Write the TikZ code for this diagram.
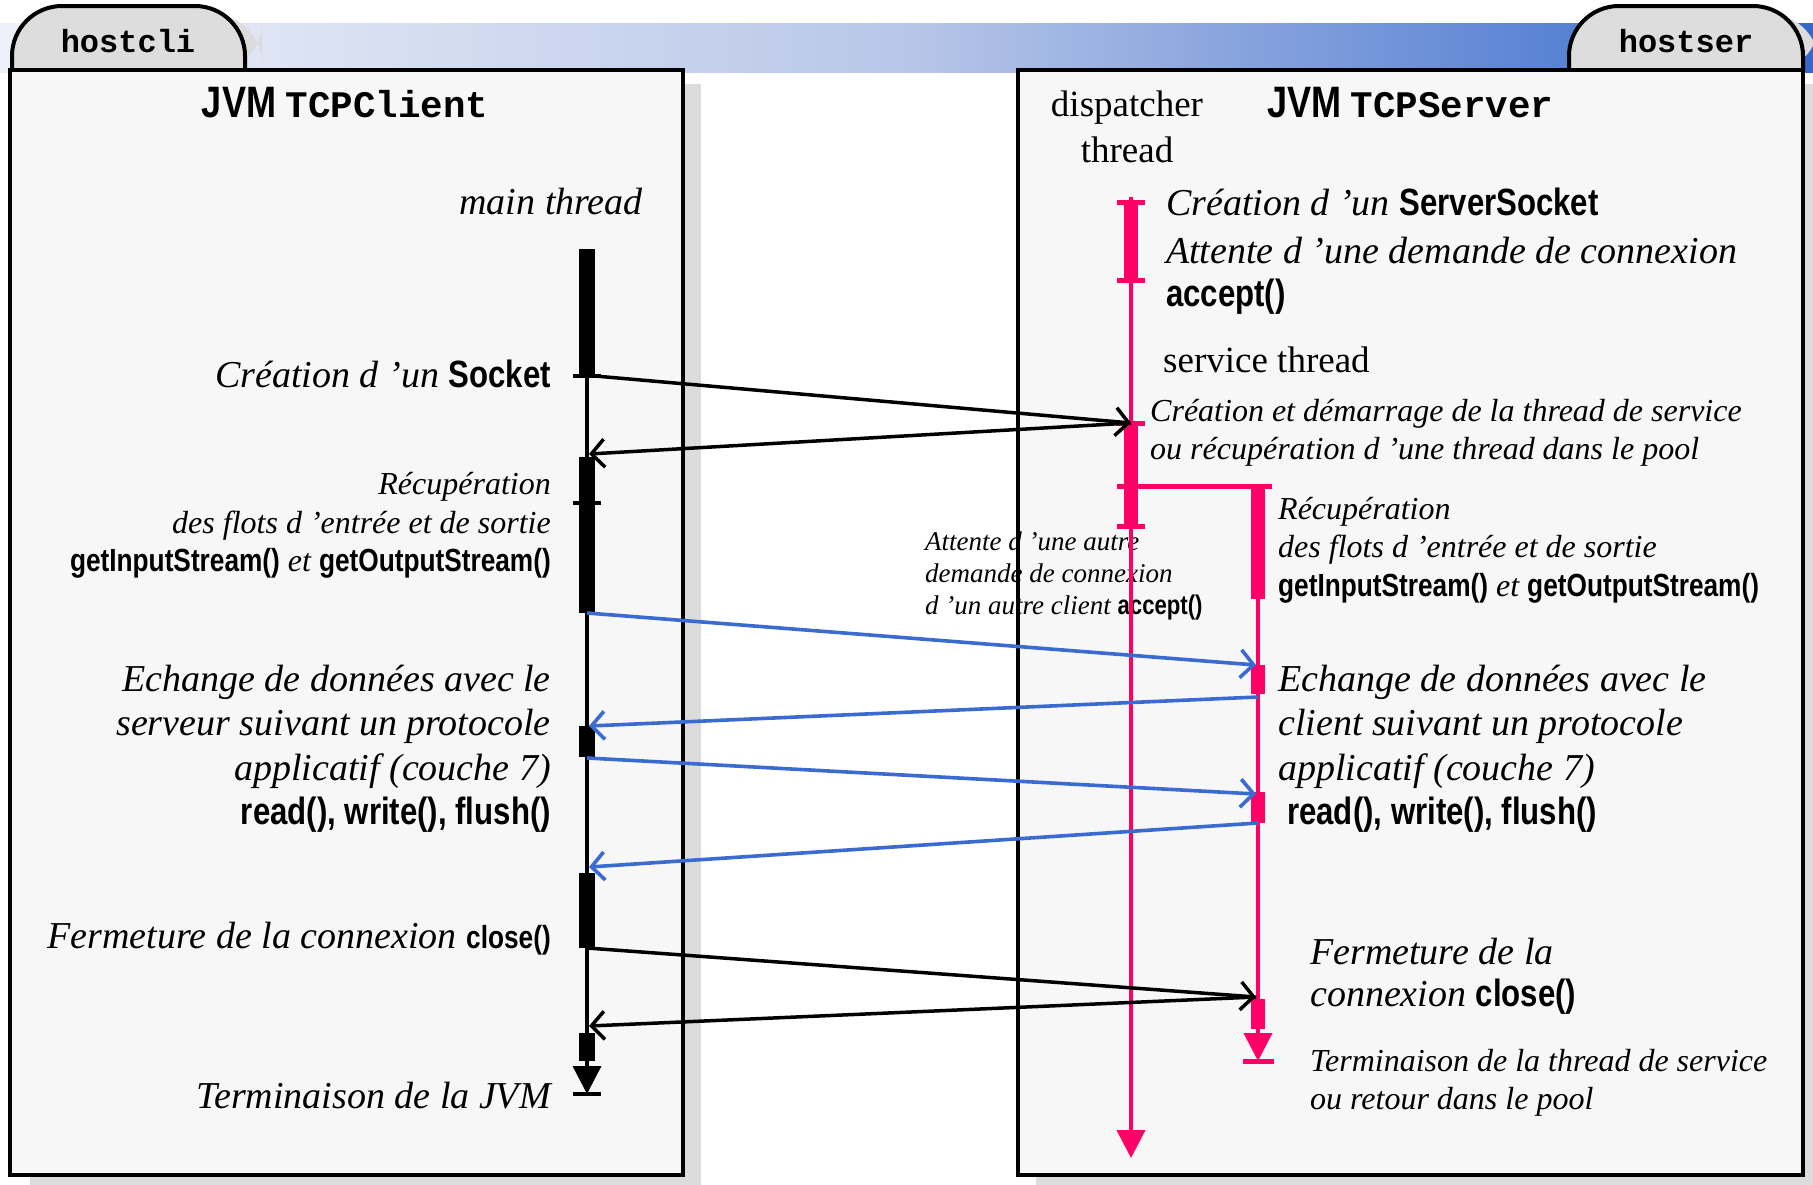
\documentclass[tikz,border=0pt]{standalone}
\usepackage{fontspec}
\setmainfont{Liberation Serif}
\newfontfamily\sansnarrow{Liberation Sans}[FakeStretch=0.82]
\newfontfamily\monofam{Liberation Mono}
\usetikzlibrary{arrows.meta}
\definecolor{boxfill}{HTML}{F7F7F7}
\definecolor{tabfill}{HTML}{DDDDDD}
\definecolor{shadowc}{HTML}{DCDCDC}
\definecolor{pinkc}{HTML}{FF0066}
\definecolor{bluec}{HTML}{3A6BD0}
\definecolor{bandl}{HTML}{EEF1F9}
\definecolor{bandm}{HTML}{B8C6E8}
\definecolor{bandr}{HTML}{3468CC}
\newcommand{\bsf}[1]{{\sansnarrow\bfseries\upshape #1}}
\newcommand{\bmono}[1]{{\monofam\bfseries\upshape #1}}
\begin{document}
\begin{tikzpicture}[x=1pt,y=-1pt,
  bigit/.style={font=\fontsize{38}{44}\selectfont\itshape,inner sep=0pt},
  midit/.style={font=\fontsize{32}{38}\selectfont\itshape,inner sep=0pt},
  smallit/.style={font=\fontsize{27}{32}\selectfont\itshape,inner sep=0pt},
  regtxt/.style={font=\fontsize{37}{44}\selectfont,inner sep=0pt},
  titletxt/.style={font=\fontsize{37.5}{40}\selectfont,inner sep=0pt},
  hosttxt/.style={font=\fontsize{32}{36}\selectfont,inner sep=0pt},
  boxborder/.style={draw=black,line width=4pt},
  tabshape/.style={fill=tabfill,draw=black,line width=4pt,rounded corners=50pt},
  cline/.style={line width=3.5pt,black},
  pline/.style={line width=4pt,pinkc},
  cblock/.style={fill=black},
  pblock/.style={fill=pinkc},
  ctick/.style={line width=4pt,black},
  ptick/.style={line width=5pt,pinkc},
  endtri/.style={-{Triangle[length=28pt,width=28pt]}},
  msgblack/.style={line width=3.5pt,black,-{Straight Barb[length=13pt,width=28pt]}},
  msgblue/.style={line width=3.6pt,bluec,-{Straight Barb[length=13pt,width=28pt]}},
]
\useasboundingbox (0,0) rectangle (1813,1184);
\fill[white] (0,0) rectangle (1813,1184);
% title band
\shade[left color=bandl,right color=bandr,middle color=bandm] (0,23) rectangle (1813,72);
% shadows
\fill[shadowc] (30,84) rectangle (701,1190);
\fill[shadowc] (1036,84) rectangle (1821,1190);
\fill[shadowc,rounded corners=50pt] (28,72) -- (28,14) -- (262,14) -- (262,72) -- cycle;
\fill[shadowc,rounded corners=50pt] (1585,72) -- (1585,14) -- (1819,14) -- (1819,72) -- cycle;
% tabs
\path[tabshape] (12,72) -- (12,6) -- (245,6) -- (245,72);
\path[tabshape] (1569,72) -- (1569,6) -- (1803,6) -- (1803,72);
\node[hosttxt,anchor=base] (hostcli) at (128,52) {\bmono{hostcli}};
\node[hosttxt,anchor=base] (hostser) at (1686,52) {\bmono{hostser}};
% box fills
\fill[boxfill] (10,70) rectangle (683,1175);
\fill[boxfill] (1018,70) rectangle (1803,1175);
% middle small text (under borders and lifelines)
\node[smallit,anchor=base west] (mid1) at (925,550) {Attente d ’une autre};
\node[smallit,anchor=base west] (mid2) at (925,582) {demande de connexion};
\node[smallit,anchor=base west] (mid3) at (925,614) {d ’un autre client \bsf{accept()}};
% box borders
\draw[boxborder] (10,70) rectangle (683,1175);
\draw[boxborder] (1018,70) rectangle (1803,1175);
% titles
\node[titletxt,anchor=base] (jvmc) at (345,117) {{\fontsize{44}{46}\selectfont\bsf{JVM}} \bmono{TCPClient}};
\node[titletxt,anchor=base west] (jvms) at (1267,117) {{\fontsize{44}{46}\selectfont\bsf{JVM}} \bmono{TCPServer}};
\node[regtxt,anchor=base] (disp1) at (1127,116) {dispatcher};
\node[regtxt,anchor=base] (disp2) at (1127,162) {thread};
% ---------- client lifeline
\coordinate (cA) at (587,249);
\coordinate (cZ) at (587,1094);
\coordinate (cSock) at (595,376);
\coordinate (cRet) at (589,454);
\coordinate (c2e) at (587,613);
\coordinate (c3s) at (589,726);
\coordinate (c3e) at (587,758);
\coordinate (c4s) at (589,867);
\coordinate (c4e) at (587,948);
\coordinate (c5s) at (589,1026);
\draw[cline,endtri] (cA) -- (cZ);
\draw[ctick] (573,1094) -- (601,1094);
\fill[cblock] (579,249) rectangle (595,376);
\fill[cblock] (579,457) rectangle (595,613);
\fill[cblock] (579,726) rectangle (595,757);
\fill[cblock] (579,873) rectangle (595,948);
\fill[cblock] (579,1033) rectangle (595,1061);
\draw[ctick] (573,376) -- (601,376);
\draw[ctick] (573,503) -- (601,503);
% ---------- dispatcher lifeline
\coordinate (dA) at (1131,197);
\coordinate (dZ) at (1131,1158);
\coordinate (dAcc) at (1131,423);
\coordinate (dBr) at (1131,486);
\draw[pline,endtri] (dA) -- (dZ);
\fill[pblock] (1124,202) rectangle (1138,280);
\fill[pblock] (1124,423) rectangle (1138,526);
\foreach \yy in {202,280,423,486,526} \draw[ptick] (1117,\yy) -- (1145,\yy);
% ---------- service lifeline
\coordinate (sA) at (1258,486);
\coordinate (sZ) at (1258,1061);
\coordinate (s2s) at (1256,665);
\coordinate (s2e) at (1258,697);
\coordinate (s3s) at (1256,794);
\coordinate (s3e) at (1258,823);
\coordinate (s4s) at (1256,997);
\draw[ptick] (dBr) -- (1272,486);
\draw[pline,endtri] (sA) -- (sZ);
\draw[ptick] (1243,1061) -- (1274,1061);
\fill[pblock] (1251,486) rectangle (1265,599);
\fill[pblock] (1251,665) rectangle (1265,694);
\fill[pblock] (1251,792) rectangle (1265,823);
\fill[pblock] (1251,999) rectangle (1265,1029);
% ---------- messages
\draw[msgblack] (cSock) -- (dAcc);
\draw[msgblack] (dAcc) -- (cRet);
\draw[msgblue] (c2e) -- (s2s);
\draw[msgblue] (s2e) -- (c3s);
\draw[msgblue] (c3e) -- (s3s);
\draw[msgblue] (s3e) -- (c4s);
\draw[msgblack] (c4e) -- (s4s);
\draw[msgblack] (s4s) -- (c5s);
% ---------- client texts
\node[bigit,anchor=base east] (mainthr) at (643,214) {main thread};
\node[bigit,anchor=base east] (csock) at (551,387) {Création d ’un \bsf{Socket}};
\node[midit,anchor=base east] (crec1) at (551,494) {Récupération};
\node[midit,anchor=base east] (crec2) at (551,533) {des flots d ’entrée et de sortie};
\node[midit,anchor=base east] (crec3) at (551,571) {\bsf{getInputStream()} et \bsf{getOutputStream()}};
\node[bigit,anchor=base east] (cex1) at (551,691) {Echange de données avec le};
\node[bigit,anchor=base east] (cex2) at (551,735) {serveur suivant un protocole};
\node[bigit,anchor=base east] (cex3) at (551,780) {applicatif (couche 7)};
\node[bigit,anchor=base east] (cex4) at (551,824) {\bsf{read(), write(), flush()}};
\node[bigit,anchor=base east] (cclose) at (551,948) {Fermeture de la connexion {\fontsize{32}{38}\selectfont\bsf{close()}}};
\node[bigit,anchor=base east] (cterm) at (551,1108) {Terminaison de la JVM};
% ---------- server texts
\node[bigit,anchor=base west] (sss) at (1166,215) {Création d ’un \bsf{ServerSocket}};
\node[bigit,anchor=base west] (sat) at (1166,263) {Attente d ’une demande de connexion};
\node[bigit,anchor=base west] (sacc) at (1166,306) {\bsf{accept()}};
\node[regtxt,anchor=base west] (svth) at (1163,372) {service thread};
\node[midit,anchor=base west] (scr1) at (1150,421) {Création et démarrage de la thread de service};
\node[midit,anchor=base west] (scr2) at (1150,459) {ou récupération d ’une thread dans le pool};
\node[midit,anchor=base west] (srec1) at (1278,519) {Récupération};
\node[midit,anchor=base west] (srec2) at (1278,557) {des flots d ’entrée et de sortie};
\node[midit,anchor=base west] (srec3) at (1278,596) {\bsf{getInputStream()} et \bsf{getOutputStream()}};
\node[bigit,anchor=base west] (sex1) at (1278,691) {Echange de données avec le};
\node[bigit,anchor=base west] (sex2) at (1278,735) {client suivant un protocole};
\node[bigit,anchor=base west] (sex3) at (1278,780) {applicatif (couche 7)};
\node[bigit,anchor=base west] (sex4) at (1287,824) {\bsf{read(), write(), flush()}};
\node[bigit,anchor=base west] (sf1) at (1310,964) {Fermeture de la};
\node[bigit,anchor=base west] (sf2) at (1310,1006) {connexion \bsf{close()}};
\node[midit,anchor=base west] (st1) at (1310,1071) {Terminaison de la thread de service};
\node[midit,anchor=base west] (st2) at (1310,1109) {ou retour dans le pool};
\end{tikzpicture}
\end{document}
